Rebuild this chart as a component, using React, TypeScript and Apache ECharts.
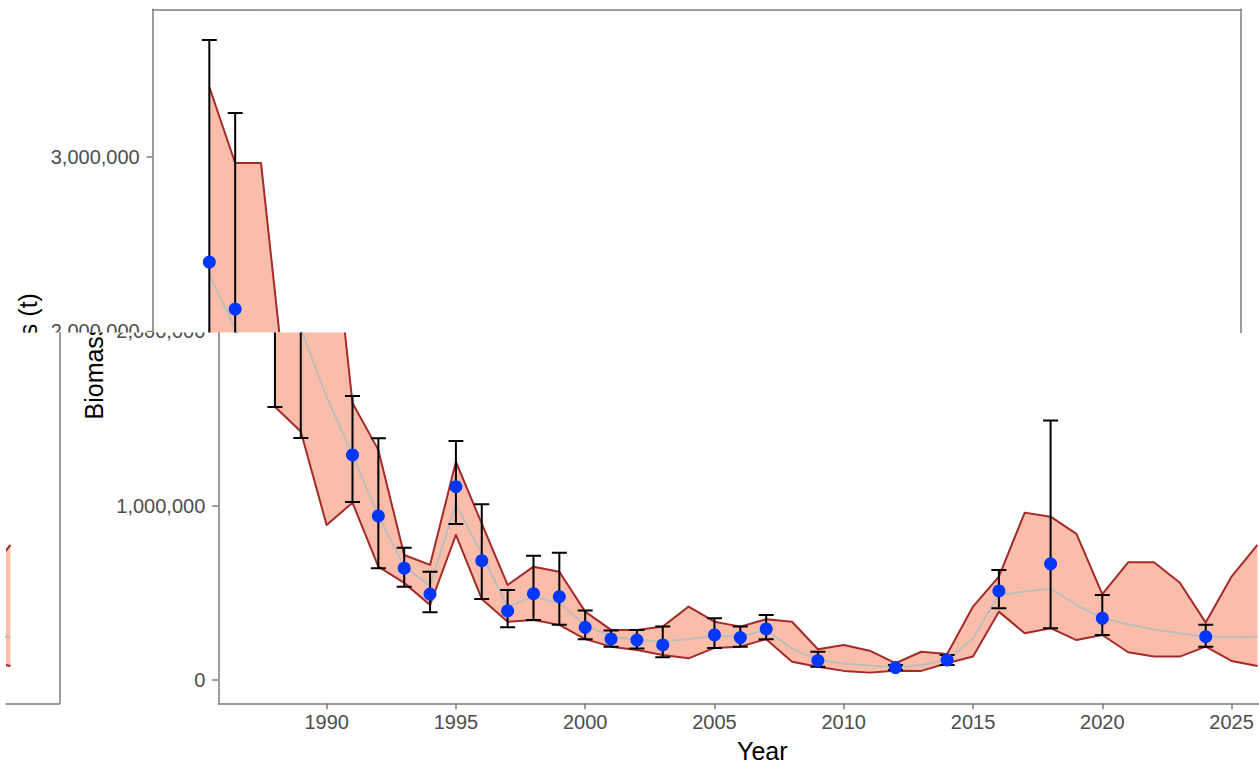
import React, { useEffect, useRef } from 'react';
import * as echarts from 'echarts';

// ---------------- data (tonnes) ----------------
const YEARS = [
  1988, 1989, 1990, 1991, 1992, 1993, 1994, 1995, 1996, 1997, 1998, 1999, 2000,
  2001, 2002, 2003, 2004, 2005, 2006, 2007, 2008, 2009, 2010, 2011, 2012, 2013,
  2014, 2015, 2016, 2017, 2018, 2019, 2020, 2021, 2022, 2023, 2024, 2025, 2026,
];
const RIBBON_HIGH = [
  3402000, 2966000, 2966000, 1589000, 1320000, 717000, 660000, 1252000, 897000,
  545000, 650000, 621000, 392000, 287000, 287000, 306000, 421000, 334000, 306000,
  348000, 334000, 176000, 201000, 168000, 96000, 162000, 149000, 421000, 593000,
  960000, 937000, 838000, 492000, 675000, 675000, 558000, 329000, 593000, 775000,
];
const RIBBON_LOW = [
  1568000, 1425000, 889000, 1017000, 650000, 557000, 430000, 832000, 465000,
  334000, 344000, 316000, 234000, 191000, 172000, 143000, 124000, 184000, 191000,
  234000, 105000, 76000, 52000, 42000, 53000, 52000, 96000, 134000, 392000,
  268000, 297000, 229000, 258000, 159000, 134000, 134000, 191000, 109000, 80000,
];
const MEDIAN = [
  2324000, 2017000, 1625000, 1291000, 941000, 650000, 540000, 1010000, 720000,
  420000, 478000, 440000, 315000, 249000, 230000, 220000, 235000, 252000, 249000,
  287000, 180000, 115000, 95000, 83000, 72000, 86000, 115000, 239000, 488000,
  507000, 524000, 430000, 355000, 320000, 290000, 268000, 248000, 248000, 247000,
];
const OBS_YEARS = [
  1988, 1989, 1991, 1992, 1993, 1994, 1995, 1996, 1997, 1998, 1999, 2000, 2001,
  2002, 2003, 2005, 2006, 2007, 2009, 2012, 2014, 2016, 2018, 2020, 2024,
];
const OBS_VALUES = [
  2398000, 2128000, 1291000, 941000, 641000, 493000, 1109000, 684000, 396000,
  495000, 478000, 302000, 235000, 229000, 201000, 258000, 243000, 293000, 111000,
  71000, 115000, 511000, 666000, 354000, 248000,
];
const OBS_LOW = [
  1566000, 1388000, 1021000, 641000, 535000, 388000, 895000, 465000, 302000,
  344000, 316000, 234000, 191000, 180000, 130000, 184000, 191000, 234000, 76000,
  57000, 86000, 411000, 297000, 258000, 191000,
];
const OBS_HIGH = [
  3672000, 3253000, 1629000, 1387000, 759000, 621000, 1371000, 1008000, 516000,
  713000, 730000, 398000, 283000, 287000, 306000, 354000, 306000, 373000, 162000,
  86000, 143000, 631000, 1488000, 488000, 316000,
];
const X_TICKS = [1990, 1995, 2000, 2005, 2010, 2015, 2020, 2025];
const Y_TICKS_MAIN = [0, 1000000];
const Y_TICKS_UPPER = [3000000];
const Y_TICK_CUT = 2000000;
const X_TITLE = 'Year';
const Y_TITLE = 'Biomass (t)';

// ---------------- layout / style ----------------
const W = 1259;
const H = 767;
const X_MIN = 1985.81;
const X_MAX = 2027.89;
const Y_MIN = -134000;
const Y_MAX = 3848000;
const PANEL_TOP = 9.3;
const PANEL_BOTTOM = 703.3;
const SPLIT = 332.5;
const PANEL_W = 1088;
const UPPER_LEFT = 152.7;
const MAIN_LEFT = 218.3;
const EDGE_LEFT = 6;
const EDGE_RIGHT = 59.3;

const FONT = "'Liberation Sans', Arial, Helvetica, sans-serif";
const AXIS_GREY = '#7b7b7b';
const LABEL_GREY = '#4d4d4d';
const RIBBON_FILL = '#FABDA9';
const RIBBON_LINE = '#A52A2A';
const MEDIAN_COLOR = '#BDBDBD';
const POINT_COLOR = '#0037FF';

const fmt = (v: number) => Math.round(v).toLocaleString('en-US');

const yPx = (v: number) =>
  PANEL_TOP + ((Y_MAX - v) / (Y_MAX - Y_MIN)) * (PANEL_BOTTOM - PANEL_TOP);
const Y_SPLIT = Y_MAX - ((SPLIT - PANEL_TOP) / (PANEL_BOTTOM - PANEL_TOP)) * (Y_MAX - Y_MIN);
const EDGE_XMIN = X_MAX - ((EDGE_RIGHT - EDGE_LEFT) * (X_MAX - X_MIN)) / PANEL_W;

function layerSeries(xAxisIndex: number, yAxisIndex: number) {
  return [
    {
      type: 'custom',
      xAxisIndex,
      yAxisIndex,
      clip: true,
      silent: true,
      z: 2,
      data: [[YEARS[0], RIBBON_LOW[0]]],
      renderItem: (_p: any, api: any) => {
        const hi = YEARS.map((y, i) => api.coord([y, RIBBON_HIGH[i]]));
        const lo = YEARS.map((y, i) => api.coord([y, RIBBON_LOW[i]]));
        return {
          type: 'group',
          children: [
            {
              type: 'polygon',
              shape: { points: hi.concat(lo.slice().reverse()) },
              style: { fill: RIBBON_FILL, stroke: null },
            },
            {
              type: 'polyline',
              shape: { points: hi },
              style: { fill: null, stroke: RIBBON_LINE, lineWidth: 2, lineJoin: 'round' },
            },
            {
              type: 'polyline',
              shape: { points: lo },
              style: { fill: null, stroke: RIBBON_LINE, lineWidth: 2, lineJoin: 'round' },
            },
          ],
        };
      },
    },
    {
      type: 'line',
      xAxisIndex,
      yAxisIndex,
      silent: true,
      z: 3,
      symbol: 'none',
      data: YEARS.map((y, i) => [y, MEDIAN[i]]),
      lineStyle: { color: MEDIAN_COLOR, width: 2 },
    },
    {
      type: 'custom',
      xAxisIndex,
      yAxisIndex,
      clip: true,
      silent: true,
      z: 4,
      encode: { x: 0, y: [1, 2] },
      data: OBS_YEARS.map((y, i) => [y, OBS_LOW[i], OBS_HIGH[i]]),
      renderItem: (_p: any, api: any) => {
        const top = api.coord([api.value(0), api.value(2)]);
        const bot = api.coord([api.value(0), api.value(1)]);
        const hw = 7.5;
        const st = { stroke: '#000', lineWidth: 2 };
        return {
          type: 'group',
          children: [
            { type: 'line', shape: { x1: top[0], y1: top[1], x2: bot[0], y2: bot[1] }, style: st },
            { type: 'line', shape: { x1: top[0] - hw, y1: top[1], x2: top[0] + hw, y2: top[1] }, style: st },
            { type: 'line', shape: { x1: bot[0] - hw, y1: bot[1], x2: bot[0] + hw, y2: bot[1] }, style: st },
          ],
        };
      },
    },
    {
      type: 'scatter',
      xAxisIndex,
      yAxisIndex,
      silent: true,
      z: 5,
      symbolSize: 13,
      itemStyle: { color: POINT_COLOR, opacity: 1 },
      data: OBS_YEARS.map((y, i) => [y, OBS_VALUES[i]]),
    },
  ];
}

const lineStyle = { color: AXIS_GREY, width: 1.5 };
const noSplit = { show: false };

function buildOption(): any {
  const titleY = (PANEL_TOP + PANEL_BOTTOM) / 2;
  const cutY = yPx(Y_TICK_CUT);
  const labelMargin = 13;
  return {
    animation: false,
    backgroundColor: '#ffffff',
    textStyle: { fontFamily: FONT },
    grid: [
      { left: UPPER_LEFT, top: PANEL_TOP, width: PANEL_W, height: SPLIT - PANEL_TOP, outerBoundsMode: 'none', containLabel: false },
      { left: MAIN_LEFT, top: SPLIT, width: PANEL_W, height: PANEL_BOTTOM - SPLIT, outerBoundsMode: 'none', containLabel: false },
      { left: EDGE_LEFT, top: SPLIT, width: EDGE_RIGHT - EDGE_LEFT, height: PANEL_BOTTOM - SPLIT, outerBoundsMode: 'none', containLabel: false },
    ],
    xAxis: [
      {
        gridIndex: 0, type: 'value', min: X_MIN, max: X_MAX, position: 'top',
        axisLine: { show: true, onZero: false, lineStyle },
        axisTick: { show: false }, axisLabel: { show: false }, splitLine: noSplit,
      },
      {
        gridIndex: 1, type: 'value', min: X_MIN, max: X_MAX, position: 'bottom',
        axisLine: { show: true, onZero: false, lineStyle },
        axisTick: { show: true, length: 6, lineStyle, customValues: X_TICKS },
        axisLabel: {
          show: true, customValues: X_TICKS, fontSize: 20, color: LABEL_GREY, margin: 9,
          fontFamily: FONT, formatter: (v: number) => String(Math.round(v)),
        },
        splitLine: noSplit,
        name: X_TITLE, nameLocation: 'middle', nameGap: 35,
        nameTextStyle: { fontSize: 25, color: '#000', fontFamily: FONT },
      },
      {
        gridIndex: 2, type: 'value', min: EDGE_XMIN, max: X_MAX, position: 'bottom',
        axisLine: { show: true, onZero: false, lineStyle },
        axisTick: { show: false }, axisLabel: { show: false }, splitLine: noSplit,
      },
    ],
    yAxis: [
      {
        gridIndex: 0, type: 'value', min: Y_SPLIT, max: Y_MAX, position: 'left',
        axisLine: { show: true, onZero: false, lineStyle },
        axisTick: { show: true, length: 6, lineStyle, customValues: Y_TICKS_UPPER },
        axisLabel: {
          show: true, customValues: Y_TICKS_UPPER, fontSize: 20, color: LABEL_GREY,
          margin: labelMargin, fontFamily: FONT, formatter: fmt,
        },
        splitLine: noSplit,
      },
      {
        gridIndex: 0, type: 'value', min: Y_SPLIT, max: Y_MAX, position: 'right',
        axisLine: { show: true, onZero: false, lineStyle },
        axisTick: { show: false }, axisLabel: { show: false }, splitLine: noSplit,
      },
      {
        gridIndex: 1, type: 'value', min: Y_MIN, max: Y_SPLIT, position: 'left',
        axisLine: { show: true, onZero: false, lineStyle },
        axisTick: { show: true, length: 6, lineStyle, customValues: Y_TICKS_MAIN },
        axisLabel: {
          show: true, customValues: Y_TICKS_MAIN, fontSize: 20, color: LABEL_GREY,
          margin: labelMargin, fontFamily: FONT, formatter: fmt,
        },
        splitLine: noSplit,
      },
      {
        gridIndex: 2, type: 'value', min: Y_MIN, max: Y_SPLIT, position: 'right',
        axisLine: { show: true, onZero: false, lineStyle },
        axisTick: { show: false }, axisLabel: { show: false }, splitLine: noSplit,
      },
    ],
    series: [
      ...layerSeries(0, 0),
      ...layerSeries(1, 2),
      ...layerSeries(2, 3),
      {
        type: 'custom',
        coordinateSystem: 'none',
        silent: true,
        clip: false,
        z: 10,
        data: [0],
        renderItem: () => {
          const titleStyle = {
            text: Y_TITLE, fontSize: 25, fontFamily: FONT, fill: '#000',
            align: 'center', verticalAlign: 'middle',
          };
          const cutStyle = {
            text: fmt(Y_TICK_CUT), fontSize: 20, fontFamily: FONT, fill: LABEL_GREY,
            align: 'right', verticalAlign: 'middle',
          };
          return {
            type: 'group',
            children: [
              {
                type: 'group',
                clipPath: { type: 'rect', shape: { x: 0, y: 0, width: W, height: SPLIT } },
                children: [
                  { type: 'text', x: UPPER_LEFT - 124.3, y: titleY, rotation: Math.PI / 2, style: titleStyle },
                  { type: 'text', x: UPPER_LEFT - labelMargin, y: cutY, style: cutStyle },
                  {
                    type: 'line',
                    shape: { x1: UPPER_LEFT - 6, y1: cutY, x2: UPPER_LEFT, y2: cutY },
                    style: { stroke: AXIS_GREY, lineWidth: 1.5 },
                  },
                ],
              },
              {
                type: 'group',
                clipPath: { type: 'rect', shape: { x: 0, y: SPLIT, width: W, height: H - SPLIT } },
                children: [
                  { type: 'text', x: MAIN_LEFT - 124.3, y: titleY, rotation: Math.PI / 2, style: titleStyle },
                  { type: 'text', x: MAIN_LEFT - labelMargin, y: cutY, style: cutStyle },
                ],
              },
            ],
          };
        },
      },
    ],
  };
}

export default function App() {
  const ref = useRef<HTMLDivElement>(null);
  useEffect(() => {
    if (!ref.current) return;
    const chart = echarts.init(ref.current, undefined, { renderer: 'svg' });
    chart.setOption(buildOption());
    return () => chart.dispose();
  }, []);
  return (
    <div
      ref={ref}
      style={{ position: 'fixed', left: 0, top: 0, width: W + 'px', height: H + 'px', background: '#fff' }}
    />
  );
}
